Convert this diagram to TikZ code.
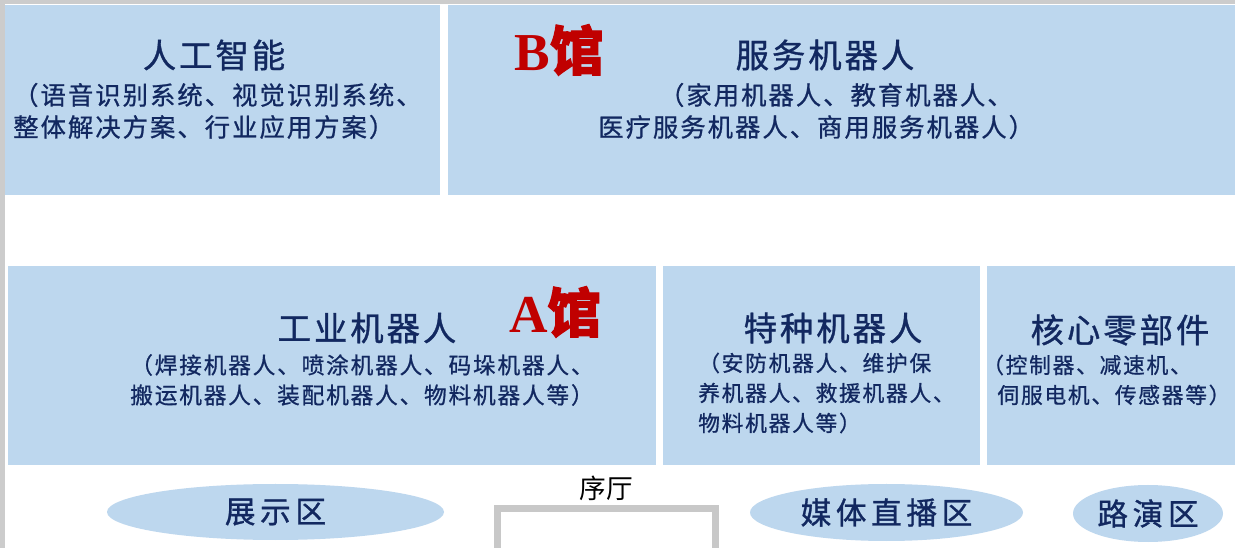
\documentclass[tikz,border=0pt]{standalone}
\usepackage{fontspec}
\setmainfont{Liberation Serif}
\newfontfamily\cjk{Noto Sans CJK SC}
\newfontfamily\cjkBold{Noto Sans CJK SC}[FakeBold=2]
\newfontfamily\cjkTitle{Noto Sans CJK SC}[LetterSpace=9, FakeBold=1]
\newfontfamily\cjkDesc{Noto Sans CJK SC}[LetterSpace=8, FakeBold=0.8]
\newfontfamily\cjkZone{Noto Sans CJK SC}[LetterSpace=15, FakeBold=1]
\usetikzlibrary{shapes, positioning}
\definecolor{fillColor}{RGB}{189,215,238}
\definecolor{textColor}{RGB}{18,40,96}
\definecolor{markColor}{RGB}{192,0,0}
\definecolor{frameColor}{RGB}{204,204,204}
\definecolor{lobbyColor}{RGB}{200,200,200}
\tikzstyle{hallBox}=[rectangle, fill=fillColor, inner sep=0pt, anchor=north west]
\tikzstyle{titleText}=[inner sep=0pt, text=textColor, font=\cjkTitle\fontsize{25}{28}\selectfont]
\tikzstyle{descText}=[inner sep=0pt, text=textColor, font=\cjkDesc\fontsize{19}{24}\selectfont]
\tikzstyle{descMid}=[descText, align=center, font=\cjkDesc\fontsize{17}{22.5}\selectfont]
\tikzstyle{descSmall}=[descText, align=left, font=\cjkDesc\fontsize{16.3}{22.5}\selectfont]
\tikzstyle{hallMark}=[inner sep=0pt, text=markColor, font=\bfseries\fontsize{40}{40}\selectfont]
\tikzstyle{zoneEllipse}=[ellipse, fill=fillColor, inner sep=0pt, text=textColor,
font=\cjkZone\fontsize{23}{26}\selectfont]
\tikzstyle{lobbyBox}=[rectangle, draw=lobbyColor, line width=5pt, inner sep=0pt]

\begin{document}
\begin{tikzpicture}[x=0.75pt, y=-0.75pt, node distance=5mm]
      \fill [white] (0,0) rectangle (1235,548);
      \useasboundingbox (0,0) rectangle (1235,548);
      \fill [frameColor] (0,0) rectangle (1235,4);
      \fill [frameColor] (0,0) rectangle (5,548);
      \node(hallAI) [hallBox, minimum width=326.25pt, minimum height=142.5pt] at (5,5) {};
      \node(hallService) [hallBox, minimum width=590.25pt, minimum height=142.5pt] at (448,5) {};
      \node(hallIndustry) [hallBox, minimum width=486pt, minimum height=149.25pt] at (8,266) {};
      \node(hallSpecial) [hallBox, minimum width=237.75pt, minimum height=149.25pt] at (663,266) {};
      \node(hallCore) [hallBox, minimum width=186pt, minimum height=149.25pt] at (987,266) {};
      \node(markB) [hallMark] at (559,50) {B{\cjkBold 馆}};
      \node(markA) [hallMark] at (555,312) {A{\cjkBold 馆}};
      \node(aiTitle) [titleText] at (214,55) {人工智能};
      \node(aiDesc) [descText, align=left, anchor=west] at (13,111)
      {（语音识别系统、视觉识别系统、\\整体解决方案、行业应用方案）};
      \node(serviceTitle) [titleText] at (825,55) {服务机器人};
      \node(serviceDesc) [descText, align=left, anchor=west] at (598,111)
      {\hspace*{2.4em}（家用机器人、教育机器人、\\医疗服务机器人、商用服务机器人）};
      \node(industryTitle) [titleText] at (367,328) {工业机器人};
      \node(industryDesc) [descMid] at (362,380)
      {（焊接机器人、喷涂机器人、码垛机器人、\\搬运机器人、装配机器人、物料机器人等）};
      \node(specialTitle) [titleText] at (833,328) {特种机器人};
      \node(specialDesc) [descSmall, anchor=west] at (698,393)
      {（安防机器人、维护保\\养机器人、救援机器人、\\物料机器人等）};
      \node(coreTitle) [titleText] at (1120,330) {核心零部件};
      \node(coreDesc) [descSmall, anchor=west] at (982,380)
      {（控制器、减速机、\\\hspace*{0.7em}伺服电机、传感器等）};
      \node(zoneShow) [zoneEllipse, minimum width=252.75pt, minimum height=42pt] at (275.5,512) {展示区};
      \node(zoneMedia) [zoneEllipse, minimum width=204.75pt, minimum height=42.75pt] at (886.5,512.5) {媒体直播区};
      \node(zoneRoad) [zoneEllipse, minimum width=112.5pt, minimum height=42.75pt] at (1148,513.5) {路演区};
      \node(lobby) [lobbyBox, minimum width=163.5pt, minimum height=60pt, anchor=north] at (606.5,505) {};
      \node(lobbyLabel) [above=3pt of lobby, inner sep=0pt, font=\cjk\fontsize{20}{24}\selectfont] {序厅};
\end{tikzpicture}
\end{document}
